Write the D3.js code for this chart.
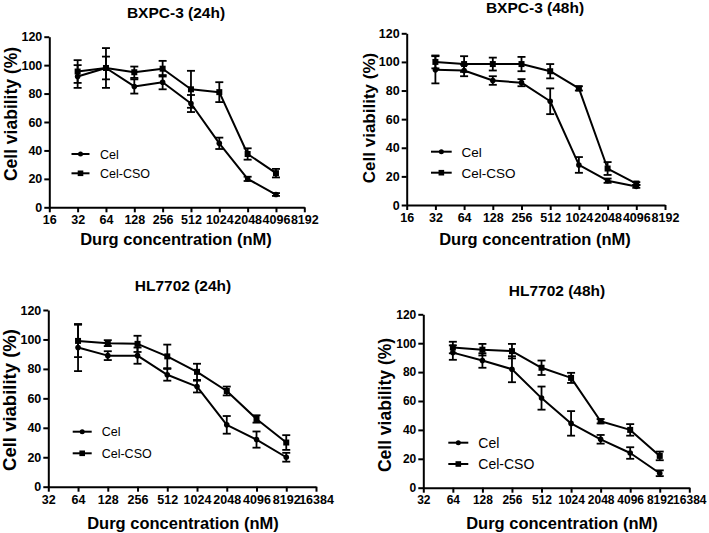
<!DOCTYPE html>
<html>
<head>
<meta charset="utf-8">
<script src="https://cdn.jsdelivr.net/npm/d3@7"></script>
<style>
  html, body { margin: 0; padding: 0; background: #fff; }
  svg { display: block; font-family: "Liberation Sans", Arial, sans-serif; }
</style>
</head>
<body>
<svg id="chart" width="709" height="533"></svg>
<script>
// ---------- DATA ----------
const yTickValues = [0, 20, 40, 60, 80, 100, 120];
const bxTicks = [16, 32, 64, 128, 256, 512, 1024, 2048, 4096, 8192];
const hlTicks = [32, 64, 128, 256, 512, 1024, 2048, 4096, 8192, 16384];
const seriesNames = ["Cel", "Cel-CSO"];
const xTitle = "Durg concentration (nM)";
const yTitle = "Cell viability (%)";

// BXPC-3 (24h)
const bx24Conc   = [32, 64, 128, 256, 512, 1024, 2048, 4096];
const bx24Cel    = [92, 98, 85, 88, 73, 45, 20, 9];
const bx24CelErr = [8, 14, 5, 5, 6, 4, 1.5, 1];
const bx24Cso    = [95.5, 98, 95, 97.5, 83, 81, 37.5, 24];
const bx24CsoErr = [8, 8, 4, 5.5, 13, 7, 4, 3];

// BXPC-3 (48h)
const bx48Conc   = [32, 64, 128, 256, 512, 1024, 2048, 4096];
const bx48Cel    = [94.5, 94, 87, 85.5, 72.5, 28, 17, 13];
const bx48CelErr = [9.5, 4, 3, 2.5, 9, 5.5, 1.5, 1];
const bx48Cso    = [100, 98.5, 98.5, 98.5, 93.5, 81.5, 25.5, 15];
const bx48CsoErr = [4.5, 5.5, 4.5, 5, 5, 1.5, 4.5, 1];

// HL7702 (24h)
const hl24Conc   = [64, 128, 256, 512, 1024, 2048, 4096, 8192];
const hl24Cel    = [94.5, 89, 89, 76, 68, 42, 32, 20];
const hl24CelErr = [16, 3, 5.5, 4, 4, 6, 5.5, 3];
const hl24Cso    = [99, 97.5, 97, 88.5, 78, 65, 46, 30];
const hl24CsoErr = [11, 2, 5.5, 8, 5.5, 3, 2.5, 5];

// HL7702 (48h)
const hl48Conc   = [64, 128, 256, 512, 1024, 2048, 4096, 8192];
const hl48Cel    = [93.5, 88, 82, 62, 44.5, 33.5, 24, 10];
const hl48CelErr = [5, 5, 9, 8, 8.5, 3, 4, 2];
const hl48Cso    = [97, 95.5, 94.5, 83, 76, 46, 40, 22];
const hl48CsoErr = [4, 4, 5, 5, 3.5, 1.5, 4, 3];

const panelTitles = ["BXPC-3 (24h)", "BXPC-3 (48h)", "HL7702 (24h)", "HL7702 (48h)"];

// ---------- LAYOUT ----------
const FONT = '"Liberation Sans", Arial, sans-serif';
const panels = [
  { title: panelTitles[0], ticks: bxTicks, conc: bx24Conc, cel: bx24Cel, celErr: bx24CelErr, cso: bx24Cso, csoErr: bx24CsoErr,
    x0: 49.3, x1: 304.3, yb: 207.3, yt: 36.7, titleX: 176, titleY: 18, xlabX: 176, xlabY: 245, ylabX: 16.5, ylabY: 114, ylabFs: 17.5,
    legX1: 71.5, legX2: 89.5, legTx: 100, legY1: 154, legY2: 173.3, legFs: 12.5, tickFs: 12.5, labFs: 16.5, titleFs: 15.5 },
  { title: panelTitles[1], ticks: bxTicks, conc: bx48Conc, cel: bx48Cel, celErr: bx48CelErr, cso: bx48Cso, csoErr: bx48CsoErr,
    x0: 406.7, x1: 665, yb: 205, yt: 33.3, titleX: 535, titleY: 13, xlabX: 535, xlabY: 245, ylabX: 375, ylabY: 118, ylabFs: 17,
    legX1: 431, legX2: 451.7, legTx: 461.5, legY1: 151.7, legY2: 172.7, legFs: 13.5, tickFs: 12.5, labFs: 16.5, titleFs: 15.5 },
  { title: panelTitles[2], ticks: hlTicks, conc: hl24Conc, cel: hl24Cel, celErr: hl24CelErr, cso: hl24Cso, csoErr: hl24CsoErr,
    x0: 48.3, x1: 316, yb: 486.7, yt: 310, titleX: 183, titleY: 290.5, xlabX: 183, xlabY: 529, ylabX: 15.5, ylabY: 400, ylabFs: 18.5,
    legX1: 72.7, legX2: 91.7, legTx: 101.7, legY1: 431.7, legY2: 453.3, legFs: 12.5, tickFs: 12.5, labFs: 16.5, titleFs: 15.5 },
  { title: panelTitles[3], ticks: hlTicks, conc: hl48Conc, cel: hl48Cel, celErr: hl48CelErr, cso: hl48Cso, csoErr: hl48CsoErr,
    x0: 423.3, x1: 689.3, yb: 487.7, yt: 314.3, titleX: 557, titleY: 295.5, xlabX: 562, xlabY: 529, ylabX: 390.5, ylabY: 405, ylabFs: 17.5,
    legX1: 448.3, legX2: 468.3, legTx: 478.3, legY1: 442.7, legY2: 464, legFs: 14, tickFs: 12, labFs: 16.5, titleFs: 15.5 }
];

const svg = d3.select("#chart");

panels.forEach(p => {
  const g = svg.append("g");
  const x = d3.scaleLog().base(2).domain([p.ticks[0], p.ticks[p.ticks.length - 1]]).range([p.x0, p.x1]);
  const y = d3.scaleLinear().domain([0, 120]).range([p.yb, p.yt]);

  // axes
  const xa = g.append("g").attr("transform", `translate(0,${p.yb})`)
    .call(d3.axisBottom(x).tickValues(p.ticks).tickFormat(d3.format("d")).tickSize(5).tickPadding(3).tickSizeOuter(0));
  const ya = g.append("g").attr("transform", `translate(${p.x0},0)`)
    .call(d3.axisLeft(y).tickValues(yTickValues).tickSize(5).tickPadding(2).tickSizeOuter(0));
  [xa, ya].forEach(a => {
    a.select(".domain").attr("stroke", "#000").attr("stroke-width", 2);
    a.selectAll(".tick line").attr("stroke", "#000").attr("stroke-width", 2);
    a.selectAll(".tick text").attr("fill", "#000").style("font-family", FONT)
      .style("font-weight", "bold").style("font-size", p.tickFs + "px");
  });

  // titles
  g.append("text").attr("x", p.titleX).attr("y", p.titleY).attr("text-anchor", "middle")
    .style("font-family", FONT).style("font-weight", "bold").style("font-size", p.titleFs + "px").text(p.title);
  g.append("text").attr("x", p.xlabX).attr("y", p.xlabY).attr("text-anchor", "middle")
    .style("font-family", FONT).style("font-weight", "bold").style("font-size", p.labFs + "px").text(xTitle);
  g.append("text").attr("transform", `translate(${p.ylabX},${p.ylabY}) rotate(-90)`).attr("text-anchor", "middle")
    .style("font-family", FONT).style("font-weight", "bold").style("font-size", p.ylabFs + "px").text(yTitle);

  const series = [
    { vals: p.cel, errs: p.celErr, shape: "circle" },
    { vals: p.cso, errs: p.csoErr, shape: "square" }
  ];
  const line = d3.line().x(d => x(d[0])).y(d => y(d[1]));

  series.forEach(s => {
    const pts = p.conc.map((c, i) => [c, s.vals[i], s.errs[i]]);
    g.append("path").datum(pts).attr("d", line).attr("fill", "none")
      .attr("stroke", "#000").attr("stroke-width", 2).attr("stroke-linejoin", "round");
    const eb = g.append("g");
    pts.forEach(d => {
      const cx = x(d[0]), yt = y(d[1] + d[2]), ybm = y(d[1] - d[2]);
      eb.append("line").attr("x1", cx).attr("x2", cx).attr("y1", yt).attr("y2", ybm).attr("stroke", "#000").attr("stroke-width", 1.8);
      eb.append("line").attr("x1", cx - 4).attr("x2", cx + 4).attr("y1", yt).attr("y2", yt).attr("stroke", "#000").attr("stroke-width", 1.8);
      eb.append("line").attr("x1", cx - 4).attr("x2", cx + 4).attr("y1", ybm).attr("y2", ybm).attr("stroke", "#000").attr("stroke-width", 1.8);
    });
    if (s.shape === "circle") {
      g.selectAll(null).data(pts).enter().append("circle")
        .attr("cx", d => x(d[0])).attr("cy", d => y(d[1])).attr("r", 2.8).attr("fill", "#000");
    } else {
      g.selectAll(null).data(pts).enter().append("rect")
        .attr("x", d => x(d[0]) - 3).attr("y", d => y(d[1]) - 3).attr("width", 6).attr("height", 6).attr("fill", "#000");
    }
  });

  // legend
  [[p.legY1, "circle", seriesNames[0]], [p.legY2, "square", seriesNames[1]]].forEach(([ly, shape, name]) => {
    g.append("line").attr("x1", p.legX1).attr("x2", p.legX2).attr("y1", ly).attr("y2", ly)
      .attr("stroke", "#000").attr("stroke-width", 2);
    const mx = (p.legX1 + p.legX2) / 2;
    if (shape === "circle") g.append("circle").attr("cx", mx).attr("cy", ly).attr("r", 2.5).attr("fill", "#000");
    else g.append("rect").attr("x", mx - 2.8).attr("y", ly - 2.8).attr("width", 5.6).attr("height", 5.6).attr("fill", "#000");
    g.append("text").attr("x", p.legTx).attr("y", ly).attr("dy", "0.36em")
      .style("font-family", FONT).style("font-size", p.legFs + "px").text(name);
  });
});
</script>
</body>
</html>
